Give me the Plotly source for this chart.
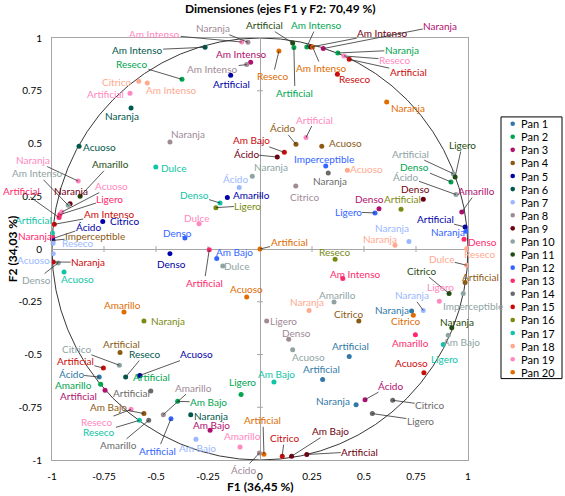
import plotly.graph_objects as go

# ---------------- data ----------------
pan_names = ["Pan %d" % k for k in range(1, 21)]
pan_colors = ["#3179a8", "#00a550", "#b0106e", "#8c5a14", "#0000a8", "#00574b", "#9ab8ff",
              "#a08a96", "#700010", "#8fa3a3", "#1f4d10", "#3366ff", "#ff2a6d", "#6b6b6b",
              "#cc0a0a", "#7a8a10", "#10c4a6", "#ffa98f", "#ff88c0", "#e06c00"]

pan = [19, 8, 6, 3, 8, 2, 5, 18, 18, 19, 6, 11, 2, 2, 9, 20, 3, 2, 19, 15,
       15, 20, 20, 19, 4, 4, 15, 9, 10, 12, 14, 18, 8, 9, 3, 16, 12, 11, 10, 2,
       10, 3, 5, 12, 13, 7, 18, 20, 18, 16, 6, 19, 11, 10, 9, 19, 13, 13, 15, 17,
       5, 5, 13, 4, 7, 8, 17, 7, 5, 17, 16, 19, 12, 7, 15, 10, 17, 5, 13, 12,
       10, 20, 20, 16, 8, 4, 10, 6, 5, 15, 1, 2, 2, 3, 14, 8, 2, 2, 6, 3,
       4, 19, 17, 14, 12, 7, 19, 8, 20, 17, 1, 1, 1, 3, 14, 14, 15, 9, 9, 15,
       13, 10, 18, 4, 8, 10, 11, 18, 4, 19, 10, 7, 1, 20, 11, 10, 13, 17]

attr = ["Am Intenso", "Naranja", "Am Intenso", "Am Intenso", "Am Intenso", "Reseco", "Artificial",
        "Citrico", "Am Intenso", "Artificial", "Naranja", "Artificial", "Artificial", "Am Intenso",
        "Am Intenso", "Am Intenso", "Naranja", "Naranja", "Reseco", "Artificial",
        "Reseco", "Naranja", "Reseco", "Artificial", "Ácido", "Acuoso", "Am Bajo", "Ácido",
        "Naranja", "Imperceptible", "Naranja", "Acuoso", "Citrico", "Denso", "Denso", "Artificial",
        "Ligero", "Ligero", "Artificial", "Denso",
        "Ácido", "Amarillo", "Artificial", "Naranja", "Denso", "Naranja", "Naranja", "Artificial",
        "Reseco", "Reseco", "Acuoso", "Naranja", "Amarillo", "Am Intenso", "Naranja", "Acuoso",
        "Artificial", "Ligero", "Am Intenso", "Artificial",
        "Citrico", "Ácido", "Naranja", "Imperceptible", "Reseco", "Naranja", "Dulce", "Ácido",
        "Amarillo", "Denso", "Ligero", "Dulce", "Denso", "Acuoso", "Naranja", "Denso", "Acuoso",
        "Denso", "Artificial", "Am Bajo",
        "Dulce", "Acuoso", "Amarillo", "Naranja", "Ligero", "Artificial", "Citrico", "Reseco",
        "Acuoso", "Artificial", "Ácido", "Artificial", "Amarillo", "Artificial", "Artificial",
        "Amarillo", "Am Bajo", "Ligero", "Naranja", "Am Bajo",
        "Am Bajo", "Reseco", "Reseco", "Amarillo", "Artificial", "Am Bajo", "Amarillo", "Ácido",
        "Artificial", "Am Bajo", "Artificial", "Artificial", "Naranja", "Ácido", "Citrico",
        "Ligero", "Citrico", "Am Bajo", "Artificial", "Acuoso",
        "Am Intenso", "Amarillo", "Naranja", "Citrico", "Denso", "Acuoso", "Citrico", "Dulce",
        "Artificial", "Ligero", "Imperceptible", "Naranja", "Naranja", "Citrico", "Naranja",
        "Am Bajo", "Amarillo", "Ligero"]

f1 = [-0.088, -0.058, -0.264, -0.045, -0.064, -0.375, -0.141, -0.583, -0.542, -0.625,
      -0.620, 0.157, 0.163, 0.225, 0.244, 0.253, 0.304, 0.374, 0.404, 0.429,
      0.372, 0.609, 0.091, 0.221, 0.173, 0.297, 0.117, 0.083, -0.037, 0.316,
      0.328, 0.420, 0.172, 0.785, 0.572, 0.678, 0.553, 0.938, 0.929, 0.918,
      0.942, 0.970, 0.986, 0.990, 0.981, 0.716, 0.649, 0.000, 0.994, 0.361,
      -0.870, -0.874, -0.865, -0.922, -0.913, -0.953, -0.966, -0.962, -0.989, -0.998,
      -0.756, -0.998, -0.998, -0.995, -0.995, -0.433, -0.501, -0.100, -0.157, -0.192,
      -0.212, -0.293, -0.361, -0.994, -0.994, -0.970, -0.942, -0.433, -0.244, -0.208,
      -0.179, -0.064, -0.654, -0.558, 0.032, -0.673, -0.676, -0.646, -0.577, -0.753,
      -0.773, -0.582, -0.766, -0.745, -0.525, -0.465, -0.396, -0.091, -0.333, -0.240,
      -0.558, -0.620, -0.580, -0.535, -0.428, -0.308, -0.096, -0.003, 0.019, 0.067,
      0.429, 0.301, 0.462, 0.505, 0.638, 0.540, 0.107, 0.152, 0.225, 0.788,
      0.398, 0.356, 0.236, 0.475, 0.138, 0.157, 0.909, 0.994, 0.986, 0.862,
      0.977, 0.785, 0.729, 0.737, 0.922, 0.905, 0.747, 0.881]

f2 = [0.981, 0.980, 0.956, 0.885, 0.874, 0.804, 0.823, 0.795, 0.787, 0.738,
      0.668, 0.976, 0.955, 0.957, 0.957, 0.957, 0.950, 0.929, 0.915, 0.899,
      0.828, 0.697, 0.938, 0.528, 0.496, 0.487, 0.458, 0.436, 0.345, 0.393,
      0.360, 0.373, 0.299, 0.236, 0.191, 0.188, 0.171, 0.341, 0.357, 0.318,
      0.258, 0.175, 0.104, 0.084, 0.046, 0.036, 0.018, 0.000, 0.002, -0.049,
      0.487, 0.322, 0.250, 0.207, 0.215, 0.175, 0.149, 0.163, 0.117, 0.076,
      0.130, 0.049, 0.060, 0.041, 0.027, 0.507, 0.389, 0.292, 0.244, 0.218,
      0.196, 0.120, 0.052, -0.022, -0.062, -0.066, -0.109, -0.022, -0.003, -0.045,
      -0.081, -0.227, -0.299, -0.341, -0.341, -0.491, -0.551, -0.607, -0.599, -0.564,
      -0.607, -0.602, -0.641, -0.670, -0.673, -0.785, -0.722, -0.690, -0.785, -0.859,
      -0.780, -0.760, -0.812, -0.812, -0.804, -0.902, -0.938, -0.967, -0.973, -0.630,
      -0.509, -0.618, -0.738, -0.714, -0.717, -0.780, -0.982, -0.982, -0.974, -0.586,
      -0.140, -0.251, -0.291, -0.341, -0.428, -0.477, -0.211, -0.077, -0.159, -0.248,
      -0.211, -0.291, -0.294, -0.314, -0.373, -0.409, -0.406, -0.453]

tick_vals = [-1, -0.75, -0.5, -0.25, 0, 0.25, 0.5, 0.75, 1]
tick_text = ["-1", "-0.75", "-0.5", "-0.25", "0", "0.25", "0.5", "0.75", "1"]

# ---------------- label layout (pixel offsets from point, leader flag) ----------------
label_layout = [
    (-87, -8, 1), (-35, -14, 1), (-68, 3, 1), (-9, -8, 0), (-34, 4, 1), (-50, -15, 1), (1, 9, 0),
    (-22, 1, 0), (24, 7, 0), (-25, 1, 0), (-9, 8, 0), (-28, -18, 1), (1, 45, 1), (10, -22, 1),
    (72, -14, 1), (9, 21, 1), (117, -23, 1), (64, -3, 1), (51, 4, 1), (59, 13, 1),
    (18, 5, 0), (21, 6, 0), (-6, 25, 1), (9, -18, 1), (-13, -16, 1), (24, -3, 0), (-33, -12, 1),
    (-31, -3, 1), (19, -9, 0), (-2, -7, 0), (2, 8, 0), (19, -1, 0), (9, 11, 0), (-8, -10, 0),
    (-9, -10, 0), (1, -10, 0), (-27, -1, 1), (7, -32, 1), (-43, -20, 1), (-36, -15, 1),
    (-50, -18, 1), (15, -21, 1), (-30, -8, 1), (-18, 1, 0), (18, 3, 0), (-17, -13, 0),
    (-15, -6, 0), (29, -7, 1), (13, 5, 0), (0, -7, 0),
    (20, 1, 0), (-45, -21, 1), (30, -32, 1), (-31, -32, 1), (1, -13, 0), (50, -26, 1),
    (-38, -27, 1), (50, -16, 1), (55, -10, 1), (-19, -13, 0),
    (22, -1, 0), (36, -12, 1), (-17, 0, 0), (42, -4, 1), (25, 0, 0), (18, -8, 0), (18, 1, 0),
    (-4, -8, 0), (24, -3, 0), (-26, -8, 1), (32, -2, 1), (-3, -6, 0), (-7, -5, 0),
    (-20, 6, 0), (35, 0, 1), (-22, 17, 1), (13, 7, 0), (2, 10, 0), (-5, 33, 1), (18, -7, 0),
    (14, 0, 0), (0, -8, 0), (-1, -7, 0), (24, 0, 0), (17, 0, 0), (1, -9, 0), (-43, -16, 1),
    (19, -23, 1), (57, -21, 1), (-28, -7, 1),
    (-28, -3, 1), (13, 1, 0), (-27, 1, 0), (-27, 6, 0), (-19, 2, 0), (30, -27, 1), (31, 1, 1),
    (1, -13, 0), (20, 1, 0), (1, -5, 0),
    (-35, -7, 1), (-34, 13, 1), (-40, 12, 1), (-30, 25, 1), (-13, 32, 1), (2, 9, 0),
    (2, -11, 0), (-16, 17, 1), (-1, -34, 1), (3, -8, 0),
    (1, -10, 0), (-1, -10, 0), (-23, -4, 0), (25, -14, 1), (37, 5, 1), (48, 7, 1),
    (2, -18, 1), (39, -25, 1), (53, -3, 1), (-12, -10, 0),
    (13, -5, 0), (3, -7, 0), (-2, -8, 0), (-10, -7, 0), (8, -6, 0), (16, 7, 0),
    (-28, -23, 1), (-25, -6, 1), (15, -6, 0), (1, -14, 0),
    (10, 12, 0), (-11, -15, 1), (-20, -1, 0), (-8, 6, 0), (5, -6, 0), (13, 7, 0),
    (-5, 8, 0), (1, 14, 0),
]

FONT = "Lato, Calibri, 'Open Sans', sans-serif"

fig = go.Figure()

for k in range(1, 21):
    idx = [i for i, p in enumerate(pan) if p == k]
    fig.add_trace(go.Scatter(
        x=[f1[i] for i in idx], y=[f2[i] for i in idx], mode="markers",
        marker=dict(size=5, color=pan_colors[k - 1]), name=pan_names[k - 1],
        cliponaxis=False, showlegend=False, hovertext=[attr[i] for i in idx]))

annotations = []
for i in range(len(attr)):
    dx, dy, lead = label_layout[i]
    c = pan_colors[pan[i] - 1]
    annotations.append(dict(
        x=f1[i], y=f2[i], xref="x", yref="y", text=attr[i], showarrow=True,
        ax=dx, ay=dy, arrowhead=0, arrowwidth=0.8, standoff=0,
        arrowcolor="#303030" if lead else "rgba(0,0,0,0)",
        font=dict(family=FONT, size=10, color=c), borderpad=0))

# titles
annotations.append(dict(x=(280 - 52) / 416, y=(460 - 8) / 422.5, xref="paper", yref="paper",
                        text="<b>Dimensiones (ejes F1 y F2: 70,49 %)</b>", showarrow=False,
                        font=dict(family=FONT, size=12, color="black"), yanchor="middle"))
annotations.append(dict(x=0.5, y=(460 - 487) / 422.5, xref="paper", yref="paper",
                        text="<b>F1 (36,45 %)</b>", showarrow=False,
                        font=dict(family=FONT, size=12, color="black"), yanchor="middle"))
annotations.append(dict(x=(12 - 52) / 416, y=(460 - 249) / 422.5, xref="paper", yref="paper",
                        text="<b>F2 (34,03 %)</b>", showarrow=False, textangle=-90,
                        font=dict(family=FONT, size=12, color="black"),
                        xanchor="center", yanchor="middle"))

shapes = []
# correlation circle
shapes.append(dict(type="circle", xref="x", yref="y", x0=-1, y0=-1, x1=1, y1=1,
                   line=dict(color="#202020", width=0.9), layer="below"))
# tick marks crossing the zero lines
for v in tick_vals:
    if v in (-1, 0, 1):
        continue
    shapes.append(dict(type="line", xref="x", yref="y", x0=v, x1=v, ysizemode="pixel",
                       yanchor=0, y0=-3, y1=3, line=dict(color="#a6a6a6", width=1), layer="below"))
    shapes.append(dict(type="line", xref="x", yref="y", y0=v, y1=v, xsizemode="pixel",
                       xanchor=0, x0=-3, x1=3, line=dict(color="#a6a6a6", width=1), layer="below"))

# manual legend
def px2paper_x(px):
    return (px - 52) / 416


def px2paper_y(py):
    return (460 - py) / 422.5


shapes.append(dict(type="rect", xref="paper", yref="paper",
                   x0=px2paper_x(501), x1=px2paper_x(562),
                   y0=px2paper_y(378.5), y1=px2paper_y(116.5),
                   line=dict(color="black", width=1), fillcolor="white"))
for k in range(20):
    yy = px2paper_y(123.3 + k * 13.1)
    shapes.append(dict(type="circle", xref="paper", yref="paper", xsizemode="pixel",
                       ysizemode="pixel", xanchor=px2paper_x(512.7), yanchor=yy,
                       x0=-2.3, x1=2.3, y0=-2.3, y1=2.3,
                       fillcolor=pan_colors[k], line=dict(width=0)))
    annotations.append(dict(x=px2paper_x(519), y=yy, xref="paper", yref="paper",
                            text=pan_names[k], showarrow=False, xanchor="left",
                            yanchor="middle",
                            font=dict(family=FONT, size=11, color="black")))

axis_common = dict(range=[-1, 1], autorange=False, showgrid=False, zeroline=True,
                   zerolinecolor="#a6a6a6", zerolinewidth=1, showline=True, mirror=True,
                   linecolor="#a6a6a6", linewidth=1, tickvals=tick_vals, ticktext=tick_text,
                   ticks="outside", ticklen=7, tickcolor="rgba(0,0,0,0)",
                   tickfont=dict(family=FONT, size=10, color="black"))

fig.update_layout(
    width=565, height=496,
    margin=dict(l=52, r=97, t=37.5, b=36),
    plot_bgcolor="white", paper_bgcolor="white",
    xaxis=axis_common, yaxis=axis_common,
    annotations=annotations, shapes=shapes, showlegend=False,
)

fig.write_html("out.html")
